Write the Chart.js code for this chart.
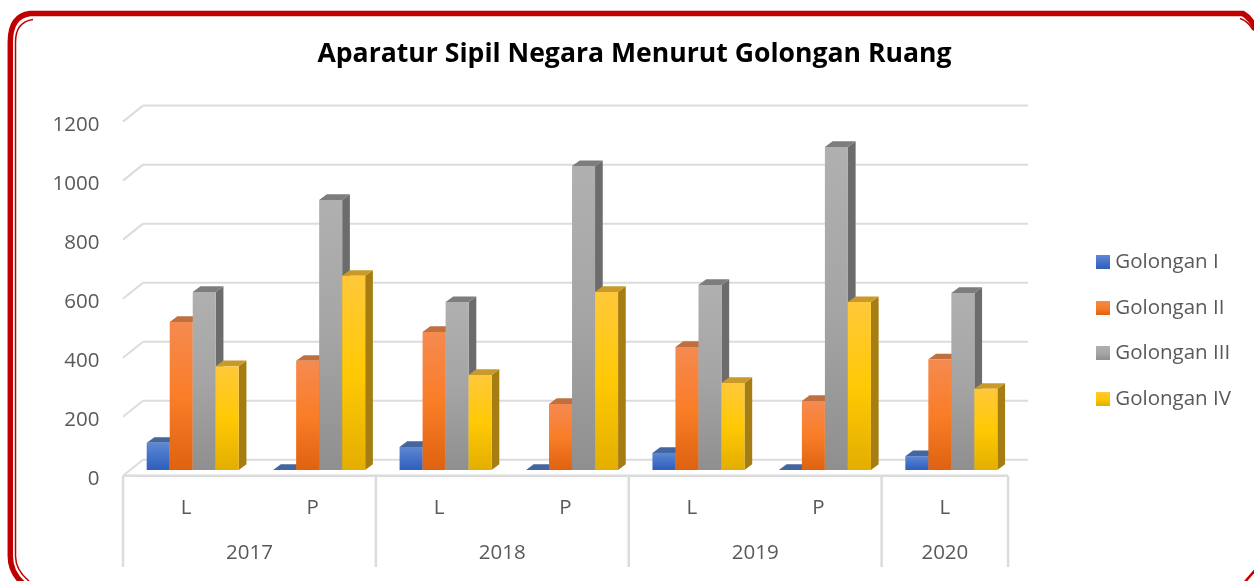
<!DOCTYPE html>
<html>
<head>
<meta charset="utf-8">
<title>Aparatur Sipil Negara Menurut Golongan Ruang</title>
<script src="https://cdn.jsdelivr.net/npm/chart.js@4"></script>
<style>
  html, body { margin: 0; padding: 0; background: #fff; overflow: hidden; }
  #wrap { width: 1254px; height: 581px; }
</style>
</head>
<body>
<div id="wrap"><canvas id="myChart" width="1254" height="581"></canvas></div>
<script>
// data
const categories = ["L", "P", "L", "P", "L", "P", "L"];
const years = ["2017", "2018", "2019", "2020"];
const yearSpans = [2, 2, 2, 1]; // how many categories each year covers
const yTicks = [0, 200, 400, 600, 800, 1000, 1200];

const golonganI = [92, 0, 78, 0, 58, 0, 47];
const golonganII = [502, 370, 468, 224, 417, 234, 375];
const golonganIII = [603, 915, 569, 1030, 627, 1095, 600];
const golonganIV = [352, 658, 322, 603, 295, 569, 275];

const seriesNames = ["Golongan I", "Golongan II", "Golongan III", "Golongan IV"];
const seriesValues = [golonganI, golonganII, golonganIII, golonganIV];

// face gradient stops, then right side and top cap
const faceStops = [
  ["#5f88d4", "#4472c8", "#2e5fbc"],
  ["#f58a50", "#fa7d28", "#df6210"],
  ["#b0b0b0", "#a5a5a5", "#8f8f8f"],
  ["#ffc83a", "#ffc905", "#e3ae00"]
];
const sideColors = ["#2a4d8e", "#a94e12", "#6c6c6c", "#a67d12"];
const capColors = ["#44669f", "#c0703f", "#7d7d7d", "#c99a2a"];

const gridColor = "#dcdcdc";
const textColor = "#595959";
const fontName = "'Open Sans', sans-serif";
const fontSize = 20.5;

// bars are pushed back in the fake 3d box
const depthX = 7.7, depthY = 5.7;
const wallX = 20, wallY = 10.3, floorFront = 5.7, frontShift = 6.5;

function addStops(g, stops) {
  g.addColorStop(0, stops[0]);
  g.addColorStop(0.5, stops[1]);
  g.addColorStop(1, stops[2]);
  return g;
}

function faceGradient(ctx) {
  const chart = ctx.chart;
  if (ctx.type !== "data" || !chart.chartArea) return faceStops[ctx.datasetIndex][1];
  const y = chart.scales.y;
  const g = chart.ctx.createLinearGradient(0, y.getPixelForValue(ctx.parsed.y), 0, y.getPixelForValue(0));
  return addStops(g, faceStops[ctx.datasetIndex]);
}

function swatch(i) {
  const c = document.createElement("canvas");
  c.width = 14;
  c.height = 14;
  const x = c.getContext("2d");
  x.fillStyle = addStops(x.createLinearGradient(0, 0, 0, 14), faceStops[i]);
  x.fillRect(0, 0, 14, 14);
  return c;
}

function line(ctx, x1, y1, x2, y2) {
  ctx.beginPath();
  ctx.moveTo(x1, y1);
  ctx.lineTo(x2, y2);
  ctx.stroke();
}

function poly(ctx, pts, color) {
  ctx.fillStyle = color;
  ctx.beginPath();
  pts.forEach((p, i) => (i ? ctx.lineTo(p[0], p[1]) : ctx.moveTo(p[0], p[1])));
  ctx.closePath();
  ctx.fill();
}

// the red frame of the original slide, runs off the right and bottom edge
const framePlugin = {
  id: "frame",
  beforeDraw(chart) {
    const ctx = chart.ctx;
    ctx.save();
    ctx.fillStyle = "#fff";
    ctx.fillRect(0, 0, chart.width, chart.height);
    ctx.strokeStyle = "#c00000";
    ctx.lineWidth = 5.5;
    ctx.beginPath();
    ctx.moveTo(1244, 13.5);
    ctx.lineTo(30, 13.5);
    ctx.quadraticCurveTo(10.3, 16, 10.3, 42);
    ctx.lineTo(10.3, 556);
    ctx.quadraticCurveTo(10.3, 574, 26, 586);
    ctx.stroke();
    ctx.beginPath();
    ctx.moveTo(1243, 13.5);
    ctx.quadraticCurveTo(1251, 18, 1256, 30);
    ctx.stroke();
    ctx.lineWidth = 2.5;
    ctx.beginPath();
    ctx.moveTo(1244, 583);
    ctx.lineTo(1256, 569);
    ctx.stroke();
    ctx.lineWidth = 1.5;
    ctx.beginPath();
    ctx.moveTo(33, 19.5);
    ctx.quadraticCurveTo(15.5, 22, 15.5, 42);
    ctx.lineTo(15.5, 556);
    ctx.quadraticCurveTo(15.5, 570, 29, 581);
    ctx.stroke();
    ctx.beginPath();
    ctx.moveTo(1240, 18.5);
    ctx.quadraticCurveTo(1248, 21, 1253, 30);
    ctx.stroke();
    ctx.restore();
  }
};

// grid lines, floor and the two level category axis
const boxPlugin = {
  id: "box3d",
  beforeDatasetsDraw(chart) {
    const ctx = chart.ctx;
    const y = chart.scales.y;
    const x = chart.scales.x;
    const step = x.getPixelForValue(1) - x.getPixelForValue(0);
    const left = x.left - frontShift;
    const right = left + step * categories.length;
    ctx.save();
    ctx.strokeStyle = gridColor;
    ctx.lineWidth = 2;
    yTicks.forEach(v => {
      const front = y.getPixelForValue(v) + floorFront;
      const back = y.getPixelForValue(v) - wallY;
      line(ctx, left, front, left + wallX, back);
      line(ctx, left + wallX, back, right + wallX, back);
    });
    // floor front edge and the year separators
    const base = y.getPixelForValue(0) + floorFront;
    const axisBottom = 567;
    ctx.lineWidth = 2.5;
    line(ctx, left, base, right, base);
    let idx = 0;
    line(ctx, left, base, left, axisBottom);
    ctx.fillStyle = textColor;
    ctx.font = fontSize + "px " + fontName;
    ctx.textAlign = "center";
    ctx.textBaseline = "middle";
    years.forEach((yr, i) => {
      const a = left + step * idx;
      idx += yearSpans[i];
      const b = left + step * idx;
      line(ctx, b, base, b, axisBottom);
      ctx.fillText(yr, (a + b) / 2, 553);
    });
    ctx.restore();

    // datasets left to right so each bar covers the side of its neighbour
    seriesNames.forEach((name, d) => {
      const meta = chart.getDatasetMeta(d);
      meta.data.forEach(bar => {
        const l = bar.x - bar.width / 2;
        const r = bar.x + bar.width / 2;
        const t = bar.y;
        const b = bar.base;
        poly(ctx, [[r, t], [r + depthX, t - depthY], [r + depthX, b - depthY], [r, b]], sideColors[d]);
        poly(ctx, [[l, t], [l + depthX, t - depthY], [r + depthX, t - depthY], [r, t]], capColors[d]);
        bar.draw(ctx);
      });
    });
    return false;
  }
};

// legend and title sit elsewhere than the layout would put them
const legendPlugin = {
  id: "legendPlace",
  afterLayout(chart) {
    const lg = chart.legend;
    const w = lg.right - lg.left;
    lg.left = 1076;
    lg.right = 1076 + w;
    lg.top += 40;
    lg.bottom += 40;
    chart.titleBlock.left = 0;
    chart.titleBlock.right = 1269;
  }
};

new Chart(document.getElementById("myChart").getContext("2d"), {
  type: "bar",
  data: {
    labels: categories,
    datasets: seriesNames.map((name, i) => ({
      label: name,
      data: seriesValues[i],
      backgroundColor: faceGradient,
      borderWidth: 0,
      barPercentage: 1,
      categoryPercentage: 0.728
    }))
  },
  options: {
    responsive: false,
    animation: false,
    events: [],
    layout: { padding: { right: 74.5 } },
    plugins: {
      tooltip: { enabled: false },
      title: {
        display: true,
        text: "Aparatur Sipil Negara Menurut Golongan Ruang",
        color: "#000",
        font: { family: fontName, size: 26.6, weight: "bold" },
        padding: { top: 38, bottom: 46 }
      },
      legend: {
        position: "right",
        labels: {
          color: textColor,
          font: { family: fontName, size: fontSize },
          usePointStyle: true,
          pointStyleWidth: 4,
          boxHeight: 14,
          padding: 25,
          generateLabels: () => seriesNames.map((name, i) => ({
            text: name,
            datasetIndex: i,
            fontColor: textColor,
            fillStyle: faceStops[i][2],
            strokeStyle: faceStops[i][2],
            lineWidth: 0,
            pointStyle: swatch(i)
          }))
        }
      }
    },
    scales: {
      x: {
        grid: { display: false },
        border: { display: false },
        afterFit: s => { s.height = 111; },
        ticks: { color: textColor, font: { family: fontName, size: fontSize }, padding: 18, labelOffset: -frontShift, maxRotation: 0 }
      },
      y: {
        min: 0,
        max: 1200,
        grid: { display: false },
        border: { display: false },
        afterFit: s => { s.width = 129.5; },
        ticks: { stepSize: 200, color: textColor, font: { family: fontName, size: fontSize }, padding: 22, labelOffset: 9.5, callback: v => String(v) }
      }
    }
  },
  plugins: [framePlugin, boxPlugin, legendPlugin]
});
</script>
</body>
</html>
